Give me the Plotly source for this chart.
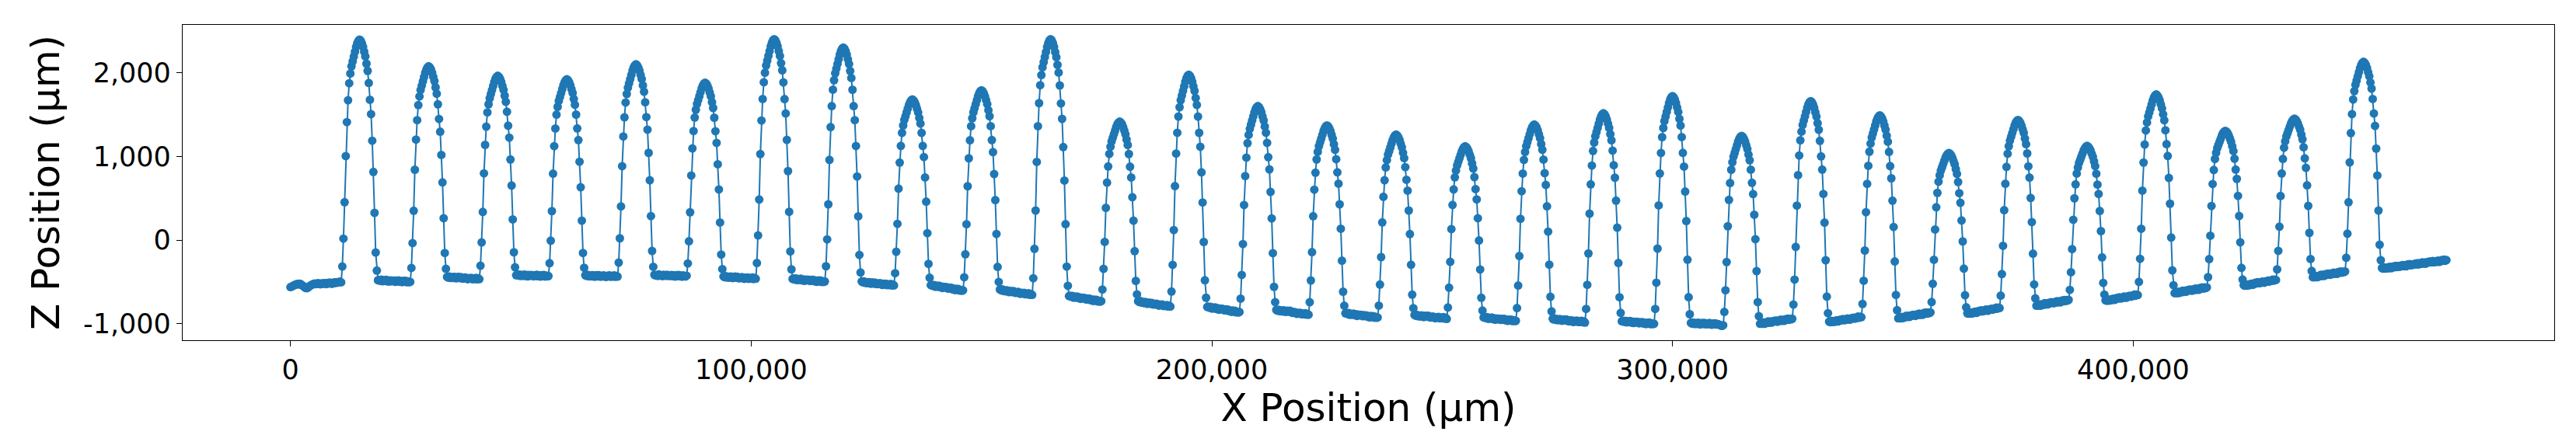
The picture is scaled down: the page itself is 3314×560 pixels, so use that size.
import plotly.graph_objects as go

# profilometer scan, one z sample every 250 µm along x
X_STEP = 250

# flat lead-in before the first ridge (x = 0 .. 7,250)
Z_LEAD = [-562, -556, -549, -541, -536, -528, -524, -530, -522, -527, -538, -549, -560, -571, -576,
          -569, -558, -547, -539, -531, -524, -520, -527, -519, -514, -522, -528, -517, -523, -515]

# one list per ridge: 60 samples, ridge top in the middle
Z_P01 = [-518, -526, -512, -520, -509, -516, -523, -511, -506, -514, -503, -509, -500, -497, -505,
         -316, 17, 452, 1003, 1409, 1670, 1873, 1989, 2076, 2134, 2192, 2250, 2308, 2351, 2380, 2395,
         2381, 2352, 2309, 2251, 2194, 2107, 2021, 1877, 1676, 1504, 1187, 814, 325, -149, -365,
         -480, -476, -487, -474, -492, -481, -488, -475, -493, -483, -496, -482, -491, -484]
Z_P02 = [-486, -499, -485, -494, -482, -498, -491, -503, -488, -497, -486, -504, -494, -503, -500,
         -333, -36, 350, 840, 1200, 1432, 1612, 1715, 1793, 1844, 1896, 1947, 1999, 2037, 2063, 2076,
         2063, 2038, 2000, 1950, 1900, 1824, 1748, 1622, 1446, 1294, 1017, 689, 261, -155, -344,
         -440, -449, -436, -453, -444, -453, -441, -443, -458, -444, -441, -454, -443, -459]
Z_P03 = [-461, -453, -448, -461, -468, -454, -459, -452, -468, -460, -465, -452, -469, -458, -467,
         -307, -28, 336, 797, 1137, 1355, 1525, 1622, 1695, 1744, 1792, 1841, 1889, 1926, 1950, 1962,
         1950, 1926, 1891, 1843, 1795, 1724, 1652, 1533, 1366, 1224, 962, 652, 247, -146, -325,
         -420, -413, -425, -412, -430, -418, -426, -412, -429, -418, -434, -418, -427, -417]
Z_P04 = [-421, -433, -419, -428, -416, -432, -424, -437, -419, -428, -418, -435, -425, -434, -430,
         -277, -7, 346, 793, 1122, 1333, 1498, 1592, 1662, 1709, 1756, 1803, 1850, 1886, 1909, 1921,
         1909, 1886, 1851, 1804, 1757, 1686, 1616, 1499, 1334, 1194, 936, 631, 232, -155, -331,
         -420, -428, -416, -433, -424, -434, -420, -422, -439, -425, -419, -434, -420, -436]
Z_P05 = [-436, -427, -421, -435, -441, -426, -430, -423, -439, -430, -435, -422, -439, -428, -437,
         -270, 21, 402, 883, 1238, 1466, 1644, 1745, 1821, 1872, 1923, 1973, 2024, 2062, 2087, 2100,
         2087, 2062, 2024, 1974, 1924, 1848, 1772, 1646, 1470, 1319, 1042, 714, 286, -130, -319,
         -415, -424, -418, -428, -411, -425, -420, -431, -416, -427, -421, -414, -430, -423]
Z_P06 = [-428, -418, -431, -422, -436, -420, -427, -417, -433, -425, -438, -421, -429, -435, -426,
         -280, -14, 332, 771, 1095, 1302, 1464, 1557, 1626, 1672, 1718, 1764, 1811, 1845, 1868, 1880,
         1868, 1845, 1810, 1764, 1718, 1648, 1578, 1462, 1300, 1161, 906, 604, 210, -173, -347,
         -435, -444, -431, -448, -439, -449, -436, -438, -454, -440, -437, -450, -439, -455]
Z_P07 = [-456, -448, -442, -456, -463, -449, -454, -447, -463, -455, -461, -448, -465, -453, -462,
         -274, 55, 484, 1027, 1428, 1685, 1885, 2000, 2085, 2143, 2200, 2257, 2314, 2357, 2386, 2400,
         2386, 2357, 2314, 2257, 2199, 2113, 2028, 1884, 1684, 1512, 1197, 824, 337, -136, -350,
         -465, -459, -472, -459, -478, -467, -475, -462, -481, -471, -487, -472, -482, -473]
Z_P08 = [-476, -489, -476, -486, -475, -492, -485, -499, -482, -492, -482, -500, -491, -500, -495,
         -313, 8, 427, 958, 1350, 1601, 1797, 1909, 1993, 2048, 2104, 2160, 2216, 2258, 2286, 2300,
         2286, 2258, 2216, 2160, 2104, 2020, 1936, 1796, 1600, 1432, 1124, 760, 284, -178, -388,
         -495, -505, -494, -512, -504, -515, -503, -506, -522, -509, -507, -521, -511, -526]
Z_P09 = [-526, -519, -514, -529, -536, -522, -528, -522, -538, -531, -537, -525, -542, -532, -542,
         -396, -140, 193, 614, 925, 1125, 1280, 1369, 1436, 1480, 1525, 1569, 1613, 1647, 1669, 1680,
         1669, 1647, 1613, 1569, 1525, 1458, 1391, 1280, 1125, 992, 748, 459, 82, -285, -451,
         -540, -535, -549, -537, -558, -548, -557, -544, -563, -554, -572, -558, -569, -562]
Z_P10 = [-566, -580, -568, -580, -571, -589, -583, -598, -583, -594, -585, -604, -595, -606, -600,
         -445, -170, 189, 643, 977, 1192, 1360, 1455, 1527, 1575, 1623, 1670, 1718, 1754, 1778, 1790,
         1778, 1754, 1718, 1671, 1623, 1551, 1480, 1361, 1194, 1051, 788, 478, 73, -321, -500,
         -590, -600, -589, -608, -601, -613, -601, -605, -622, -610, -609, -622, -611, -628]
Z_P11 = [-631, -624, -620, -635, -643, -630, -636, -631, -648, -641, -648, -636, -654, -645, -655,
         -456, -105, 353, 934, 1361, 1636, 1850, 1972, 2064, 2125, 2186, 2247, 2308, 2354, 2385, 2400,
         2385, 2354, 2308, 2246, 2185, 2093, 2001, 1847, 1632, 1448, 1111, 711, 190, -317, -547,
         -670, -665, -679, -667, -688, -678, -687, -674, -693, -684, -702, -688, -699, -692]
Z_P12 = [-696, -710, -698, -710, -701, -719, -713, -728, -713, -724, -715, -734, -725, -736, -730,
         -591, -344, -22, 385, 686, 879, 1029, 1115, 1179, 1222, 1265, 1308, 1351, 1383, 1404, 1415,
         1404, 1383, 1350, 1307, 1264, 1200, 1135, 1028, 877, 748, 512, 232, -133, -488, -649,
         -730, -740, -729, -748, -741, -753, -741, -745, -762, -750, -749, -762, -751, -768]
Z_P13 = [-771, -764, -760, -775, -783, -770, -776, -771, -788, -781, -788, -776, -794, -785, -795,
         -615, -296, 119, 645, 1033, 1282, 1476, 1587, 1670, 1726, 1781, 1836, 1892, 1933, 1961, 1975,
         1961, 1933, 1892, 1836, 1781, 1697, 1614, 1475, 1281, 1115, 809, 449, -23, -481, -689,
         -800, -795, -809, -797, -818, -808, -817, -804, -823, -814, -832, -818, -829, -822]
Z_P14 = [-826, -840, -828, -840, -831, -849, -843, -858, -843, -854, -845, -864, -855, -866, -860,
         -700, -417, -48, 419, 764, 985, 1157, 1256, 1329, 1379, 1428, 1477, 1526, 1563, 1588, 1600,
         1588, 1563, 1527, 1478, 1429, 1356, 1283, 1161, 990, 844, 575, 258, -157, -559, -742,
         -835, -844, -832, -850, -842, -853, -840, -843, -859, -846, -844, -856, -845, -861]
Z_P15 = [-871, -864, -860, -874, -882, -869, -875, -870, -886, -879, -886, -874, -891, -882, -892,
         -743, -483, -144, 285, 602, 805, 963, 1054, 1121, 1167, 1212, 1257, 1302, 1336, 1359, 1370,
         1359, 1336, 1303, 1258, 1213, 1145, 1078, 966, 809, 674, 427, 135, -246, -617, -785,
         -875, -870, -884, -872, -893, -883, -891, -878, -897, -887, -906, -891, -901, -894]
Z_P16 = [-896, -910, -898, -908, -899, -916, -910, -924, -908, -918, -909, -927, -917, -928, -925,
         -783, -532, -204, 211, 517, 714, 867, 954, 1020, 1063, 1107, 1151, 1194, 1227, 1249, 1260,
         1249, 1228, 1195, 1152, 1109, 1044, 979, 871, 720, 590, 353, 72, -295, -652, -814,
         -895, -904, -892, -910, -902, -913, -901, -904, -920, -907, -904, -916, -904, -920]
Z_P17 = [-926, -918, -913, -927, -934, -920, -925, -919, -935, -927, -934, -921, -938, -928, -942,
         -806, -569, -260, 131, 420, 605, 749, 832, 893, 935, 976, 1017, 1058, 1089, 1110, 1120,
         1110, 1089, 1059, 1018, 977, 915, 854, 752, 609, 486, 261, -5, -352, -690, -843,
         -925, -920, -933, -921, -941, -930, -938, -925, -944, -934, -952, -937, -947, -939]
Z_P18 = [-941, -954, -942, -952, -942, -959, -952, -966, -950, -960, -950, -968, -957, -968, -965,
         -813, -543, -191, 254, 583, 794, 958, 1052, 1122, 1169, 1216, 1263, 1310, 1345, 1368, 1380,
         1368, 1345, 1310, 1264, 1217, 1147, 1078, 961, 799, 659, 403, 101, -294, -678, -852,
         -940, -949, -937, -955, -946, -957, -945, -948, -964, -951, -948, -960, -949, -965]
Z_P19 = [-971, -963, -958, -972, -979, -965, -970, -963, -979, -971, -978, -965, -982, -972, -987,
         -823, -535, -160, 315, 665, 890, 1065, 1165, 1240, 1290, 1340, 1390, 1440, 1477, 1502, 1515,
         1503, 1478, 1440, 1391, 1341, 1266, 1192, 1068, 894, 745, 471, 148, -274, -684, -871,
         -970, -964, -977, -964, -983, -973, -981, -967, -985, -975, -991, -976, -985, -977]
Z_P20 = [-981, -994, -981, -991, -981, -998, -990, -1004, -988, -997, -987, -1005, -994, -1004, -1000,
         -823, -510, -102, 414, 795, 1040, 1230, 1339, 1421, 1475, 1530, 1584, 1638, 1679, 1706, 1720,
         1706, 1679, 1639, 1584, 1530, 1448, 1367, 1231, 1041, 878, 580, 227, -235, -683, -886,
         -990, -998, -985, -1002, -993, -1003, -989, -991, -1008, -994, -990, -1004, -991, -1006]
Z_P21 = [-1006, -997, -991, -1005, -1012, -997, -1002, -995, -1010, -1001, -1006, -1014, -1021, -1026, -1018,
         -859, -600, -263, 165, 480, 682, 840, 930, 997, 1042, 1087, 1132, 1177, 1211, 1234, 1245,
         1234, 1211, 1178, 1133, 1088, 1020, 953, 841, 684, 549, 302, 10, -371, -742, -910,
         -1000, -991, -1000, -984, -1000, -986, -990, -973, -988, -974, -987, -969, -974, -962]
Z_P22 = [-966, -976, -960, -967, -951, -965, -955, -966, -946, -953, -940, -953, -941, -947, -940,
         -771, -472, -82, 412, 776, 1010, 1192, 1296, 1374, 1426, 1478, 1530, 1582, 1621, 1647, 1660,
         1647, 1620, 1581, 1528, 1475, 1396, 1317, 1185, 1000, 842, 551, 208, -241, -676, -874,
         -975, -981, -965, -980, -969, -977, -960, -960, -973, -956, -950, -959, -943, -956]
Z_P23 = [-956, -945, -937, -948, -951, -934, -936, -927, -940, -929, -932, -915, -929, -916, -922,
         -763, -486, -125, 333, 671, 887, 1056, 1153, 1225, 1273, 1321, 1369, 1418, 1454, 1478, 1490,
         1478, 1454, 1417, 1369, 1320, 1247, 1175, 1053, 884, 738, 471, 156, -256, -656, -838,
         -935, -925, -935, -918, -933, -918, -923, -905, -919, -906, -918, -899, -905, -892]
Z_P24 = [-896, -906, -889, -896, -880, -894, -883, -894, -873, -880, -866, -880, -867, -873, -865,
         -741, -522, -236, 126, 392, 564, 697, 773, 830, 869, 907, 945, 983, 1011, 1030, 1040,
         1030, 1011, 982, 944, 906, 848, 790, 694, 560, 445, 234, -16, -342, -659, -803,
         -875, -880, -865, -879, -867, -875, -858, -857, -870, -853, -846, -854, -839, -851]
Z_P25 = [-851, -840, -831, -842, -845, -828, -829, -820, -832, -821, -823, -807, -820, -807, -812,
         -664, -406, -69, 357, 672, 874, 1031, 1121, 1188, 1233, 1278, 1323, 1368, 1401, 1424, 1435,
         1424, 1402, 1368, 1324, 1280, 1213, 1146, 1035, 880, 747, 503, 214, -163, -530, -696,
         -785, -775, -785, -768, -783, -769, -773, -755, -770, -756, -768, -749, -755, -742]
Z_P26 = [-746, -756, -739, -746, -730, -744, -733, -744, -723, -730, -716, -730, -717, -723, -715,
         -595, -384, -108, 242, 499, 665, 794, 867, 923, 959, 996, 1033, 1070, 1097, 1116, 1125,
         1116, 1097, 1069, 1032, 995, 940, 884, 792, 662, 551, 348, 107, -207, -512, -651,
         -720, -725, -710, -724, -712, -720, -703, -702, -715, -698, -691, -699, -684, -696]
Z_P27 = [-696, -685, -676, -687, -690, -673, -674, -665, -677, -666, -668, -652, -665, -652, -657,
         -499, -224, 135, 590, 926, 1141, 1309, 1405, 1477, 1524, 1572, 1620, 1668, 1704, 1728, 1740,
         1728, 1704, 1669, 1621, 1574, 1502, 1431, 1312, 1146, 1004, 742, 434, 30, -362, -540,
         -635, -625, -635, -618, -633, -619, -623, -605, -620, -606, -618, -599, -605, -592]
Z_P28 = [-596, -606, -589, -596, -580, -594, -583, -594, -573, -580, -566, -580, -567, -573, -565,
         -443, -228, 52, 407, 669, 837, 968, 1043, 1099, 1137, 1174, 1211, 1249, 1277, 1296, 1305,
         1296, 1277, 1249, 1212, 1175, 1120, 1064, 972, 842, 731, 528, 287, -27, -332, -471,
         -540, -545, -530, -544, -532, -540, -523, -522, -535, -518, -511, -519, -504, -516]
Z_P29 = [-516, -505, -496, -507, -510, -493, -494, -485, -497, -486, -488, -472, -485, -472, -477,
         -350, -129, 160, 526, 795, 969, 1103, 1180, 1238, 1277, 1315, 1354, 1392, 1421, 1440, 1450,
         1441, 1422, 1393, 1355, 1317, 1260, 1204, 1109, 976, 863, 654, 408, 86, -227, -369,
         -445, -435, -445, -428, -443, -429, -433, -415, -430, -416, -428, -409, -415, -402]
Z_P30 = [-406, -416, -399, -406, -390, -404, -393, -404, -383, -390, -376, -390, -377, -383, -375,
         -212, 76, 452, 928, 1278, 1504, 1679, 1779, 1854, 1905, 1955, 2005, 2055, 2092, 2117, 2130,
         2118, 2093, 2056, 2006, 1957, 1883, 1809, 1685, 1512, 1364, 1093, 771, 352, -56, -241,
         -335, -341, -326, -342, -331, -339, -323, -323, -337, -321, -315, -324, -309, -323]

# flat run-out after the last ridge (x = 457,500 .. 468,000)
Z_TAIL = [-311, -321, -305, -312, -298, -312, -302, -313, -293, -301, -288, -302, -290, -296, -290,
          -281, -291, -275, -291, -278, -283, -266, -281, -268, -282, -264, -270, -258, -259, -266,
          -251, -266, -255, -263, -248, -248, -261, -245, -239, -249, -234, -247, -239]

PERIODS = [Z_P01, Z_P02, Z_P03, Z_P04, Z_P05, Z_P06, Z_P07, Z_P08, Z_P09, Z_P10,
           Z_P11, Z_P12, Z_P13, Z_P14, Z_P15, Z_P16, Z_P17, Z_P18, Z_P19, Z_P20,
           Z_P21, Z_P22, Z_P23, Z_P24, Z_P25, Z_P26, Z_P27, Z_P28, Z_P29, Z_P30]

X_TICKS = [0, 100000, 200000, 300000, 400000]
X_TICK_TEXT = ["0", "100,000", "200,000", "300,000", "400,000"]
Y_TICKS = [-1000, 0, 1000, 2000]
Y_TICK_TEXT = ["-1,000", "0", "1,000", "2,000"]

for i, p in enumerate(PERIODS):
    assert len(p) == 60, (i + 1, len(p))

z_values = list(Z_LEAD)
for p in PERIODS:
    z_values += p
z_values += Z_TAIL
x_values = [X_STEP * i for i in range(len(z_values))]

fig = go.Figure()
fig.add_trace(go.Scatter(
    x=x_values,
    y=z_values,
    mode='lines+markers',
    line=dict(color='#1f77b4', width=2),
    marker=dict(size=11, color='#1f77b4', line=dict(width=0)),
    showlegend=False,
))

axis_style = dict(
    ticks='outside', ticklen=7, tickwidth=1.2, tickcolor='black',
    showline=True, linecolor='black', linewidth=1.2, mirror=True,
    showgrid=False, zeroline=False,
    tickfont=dict(family='DejaVu Sans', size=35, color='black'),
    automargin=False,
)

# the page body has an 8px margin, so the figure is a little smaller than the window
fig.update_layout(
    width=3306, height=552,
    margin=dict(l=227, r=28, t=24, b=122),
    paper_bgcolor='white', plot_bgcolor='white',
    font=dict(family='DejaVu Sans', color='black'),
    showlegend=False,
)
fig.update_xaxes(
    range=[-23400, 491400], tickvals=X_TICKS, ticktext=X_TICK_TEXT,
    title=dict(text='X Position (µm)', font=dict(family='DejaVu Sans', size=50), standoff=0),
    **axis_style,
)
fig.update_yaxes(
    range=[-1197, 2571], tickvals=Y_TICKS, ticktext=Y_TICK_TEXT,
    title=dict(text='Z Position (µm)', font=dict(family='DejaVu Sans', size=50), standoff=14),
    **axis_style,
)

fig.write_html("out.html")
